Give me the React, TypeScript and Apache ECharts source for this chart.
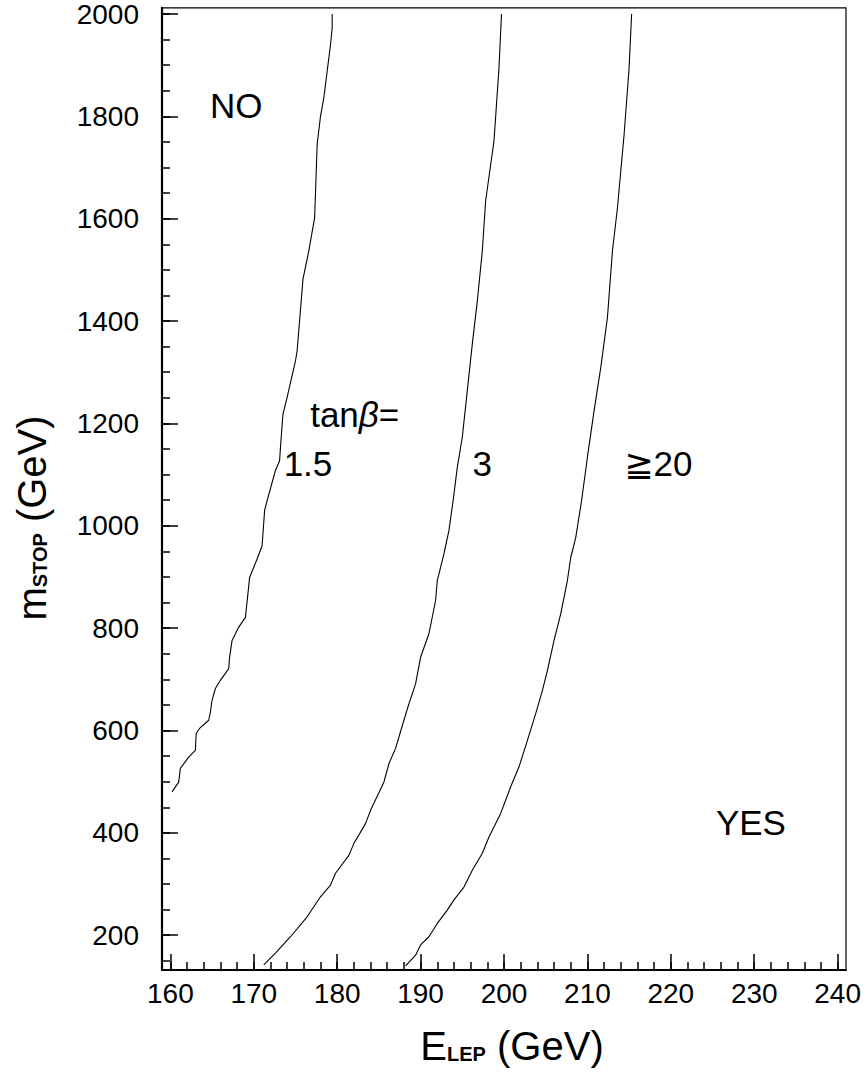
import React, { useEffect, useRef } from "react";
import * as echarts from "echarts";

const FONT = "'Liberation Sans', 'DejaVu Sans', sans-serif";

const xMajor = [160, 170, 180, 190, 200, 210, 220, 230, 240];
const xMinor = [
  160, 162, 164, 166, 168, 170, 172, 174, 176, 178, 180, 182, 184, 186, 188, 190, 192, 194, 196, 198, 200,
  202, 204, 206, 208, 210, 212, 214, 216, 218, 220, 222, 224, 226, 228, 230, 232, 234, 236, 238, 240,
];
const yMajor = [200, 400, 600, 800, 1000, 1200, 1400, 1600, 1800, 2000];
const yMinor = [
  150, 200, 250, 300, 350, 400, 450, 500, 550, 600, 650, 700, 750, 800, 850, 900, 950, 1000, 1050, 1100,
  1150, 1200, 1250, 1300, 1350, 1400, 1450, 1500, 1550, 1600, 1650, 1700, 1750, 1800, 1850, 1900, 1950, 2000,
];

// [E_LEP (GeV), m_stop (GeV)]
const tan15: [number, number][] = [
  [160.2, 480], [161.0, 499], [161.2, 526], [162.2, 548], [163.0, 561], [163.1, 594], [163.5, 604],
  [164.6, 620], [164.8, 636], [165.0, 659], [165.4, 682], [166.0, 698], [167.0, 721], [167.1, 743],
  [167.4, 776], [168.2, 802], [169.0, 821], [169.3, 867], [169.5, 899], [170.4, 935], [171.0, 961],
  [171.1, 984], [171.3, 1030], [171.6, 1049], [172.6, 1108], [173.1, 1127], [173.2, 1153], [173.5, 1218],
  [174.0, 1251], [175.0, 1322], [175.2, 1342], [175.9, 1482], [176.6, 1537], [177.3, 1602], [177.6, 1745],
  [178.0, 1800], [178.4, 1836], [179.2, 1940], [179.4, 1973], [179.4, 2000],
];
const tan3: [number, number][] = [
  [171.2, 142], [172.6, 165], [174.4, 197], [176.4, 236], [178.0, 275], [179.2, 298], [179.8, 321],
  [181.4, 356], [182.0, 379], [183.4, 418], [184.0, 444], [185.6, 499], [186.2, 535], [187.0, 565],
  [188.0, 620], [188.6, 652], [189.4, 691], [190.0, 743], [191.0, 789], [191.8, 854], [192.0, 893],
  [192.8, 945], [193.4, 991], [193.9, 1049], [194.4, 1114], [195.0, 1173], [195.6, 1264], [196.2, 1355],
  [196.8, 1439], [197.4, 1537], [197.8, 1635], [198.8, 1752], [199.4, 1895], [199.7, 2000],
];
const tan20: [number, number][] = [
  [188.2, 140], [189.4, 161], [190.0, 181], [191.0, 197], [192.0, 223], [193.2, 249], [194.0, 269],
  [195.2, 294], [196.2, 327], [197.4, 360], [198.2, 392], [199.6, 438], [200.8, 490], [201.8, 529],
  [202.6, 570], [203.8, 633], [204.6, 678], [205.2, 717], [206.0, 776], [206.8, 828], [207.6, 893],
  [208.0, 938], [208.6, 977], [209.3, 1049], [210.0, 1134], [210.8, 1225], [211.6, 1309], [212.4, 1407],
  [213.0, 1537], [213.6, 1621], [214.4, 1765], [215.0, 1895], [215.3, 2000],
];

// annotation text anchored at data coordinates (center)
const annotations: { E: number; m: number; text: string }[] = [
  { E: 167.9, m: 1821, text: "NO" },
  { E: 182.1, m: 1217, text: "{a|tan}{b|β}{a|=}" },
  { E: 176.5, m: 1122, text: "1.5" },
  { E: 197.4, m: 1122, text: "3" },
  { E: 218.5, m: 1122, text: "≧20" },
  { E: 229.6, m: 421, text: "YES" },
];

export default function App() {
  const ref = useRef<HTMLDivElement>(null);
  useEffect(() => {
    if (!ref.current) return;
    const chart = echarts.init(ref.current, undefined, { renderer: "svg" });
    const tickStyle = { color: "#000", width: 1.5 };
    const plain = (v: number) => String(v);
    const lineSeries = (name: string, data: [number, number][]) => ({
      name,
      type: "line",
      data,
      symbol: "none",
      showSymbol: false,
      smooth: false,
      lineStyle: { color: "#000", width: 1.1 },
      xAxisIndex: 0,
      yAxisIndex: 0,
      silent: true,
    });
    chart.setOption({
      animation: false,
      backgroundColor: "#fff",
      grid: {
        left: 162,
        right: 20,
        top: 7,
        bottom: 108,
        show: true,
        borderColor: "#000",
        borderWidth: 1.2,
        backgroundColor: "transparent",
      },
      xAxis: [
        {
          type: "value",
          min: 159,
          max: 241,
          position: "bottom",
          axisLine: { show: true, onZero: false, lineStyle: { color: "#000", width: 2.2 } },
          axisTick: { show: true, inside: false, length: -16, customValues: xMajor, lineStyle: tickStyle },
          axisLabel: {
            show: true,
            customValues: xMajor,
            formatter: plain,
            fontSize: 28,
            color: "#000",
            fontFamily: FONT,
            margin: 9,
          },
          splitLine: { show: false },
        },
        {
          type: "value",
          min: 159,
          max: 241,
          position: "bottom",
          axisLine: { show: false },
          axisTick: { show: true, inside: false, length: -8, customValues: xMinor, lineStyle: tickStyle },
          axisLabel: { show: false },
          splitLine: { show: false },
        },
      ],
      yAxis: [
        {
          type: "value",
          min: 132,
          max: 2012,
          position: "left",
          axisLine: { show: true, onZero: false, lineStyle: { color: "#000", width: 2.2 } },
          axisTick: { show: true, inside: false, length: -16, customValues: yMajor, lineStyle: tickStyle },
          axisLabel: {
            show: true,
            customValues: yMajor,
            formatter: plain,
            fontSize: 28,
            color: "#000",
            fontFamily: FONT,
            margin: 23,
          },
          splitLine: { show: false },
        },
        {
          type: "value",
          min: 132,
          max: 2012,
          position: "left",
          axisLine: { show: false },
          axisTick: { show: true, inside: false, length: -8, customValues: yMinor, lineStyle: tickStyle },
          axisLabel: { show: false },
          splitLine: { show: false },
        },
      ],
      series: [lineSeries("tanβ=1.5", tan15), lineSeries("tanβ=3", tan3), lineSeries("tanβ≥20", tan20)],
    });

    const annGraphics = annotations.map((a) => {
      const p = chart.convertToPixel({ gridIndex: 0 }, [a.E, a.m]) as number[];
      return {
        type: "text",
        x: p[0],
        y: p[1],
        silent: true,
        style: {
          text: a.text,
          fontSize: 35,
          fontFamily: FONT,
          fill: "#000",
          align: "center",
          verticalAlign: "middle",
          rich: {
            a: { fontSize: 35, fontFamily: FONT, color: "#000", verticalAlign: "middle" },
            b: { fontSize: 35, fontFamily: FONT, color: "#000", fontStyle: "italic", verticalAlign: "middle" },
          },
        },
      };
    });

    const titleRich = {
      m: { fontSize: 40, fontFamily: FONT, color: "#000", lineHeight: 40, verticalAlign: "middle" },
      s: {
        fontSize: 20,
        fontFamily: FONT,
        fontWeight: "bold",
        color: "#000",
        lineHeight: 20,
        padding: [15, 0, 0, 0],
        verticalAlign: "middle",
      },
      g: { fontSize: 40, fontFamily: FONT, color: "#000", lineHeight: 40, verticalAlign: "middle" },
    };

    chart.setOption({
      graphic: [
        ...annGraphics,
        {
          type: "text",
          x: 32,
          y: 518,
          rotation: Math.PI / 2,
          silent: true,
          style: {
            text: "{m|m}{s|STOP} {g|(GeV)}",
            align: "center",
            verticalAlign: "middle",
            fontSize: 40,
            fontFamily: FONT,
            fill: "#000",
            rich: titleRich,
          },
        },
        {
          type: "text",
          x: 512,
          y: 1046,
          silent: true,
          style: {
            text: "{m|E}{s|LEP} {g|(GeV)}",
            align: "center",
            verticalAlign: "middle",
            fontSize: 40,
            fontFamily: FONT,
            fill: "#000",
            rich: titleRich,
          },
        },
      ],
    });

    return () => chart.dispose();
  }, []);
  return <div ref={ref} style={{ position: "absolute", left: 0, top: 0, width: 866, height: 1078 }} />;
}
